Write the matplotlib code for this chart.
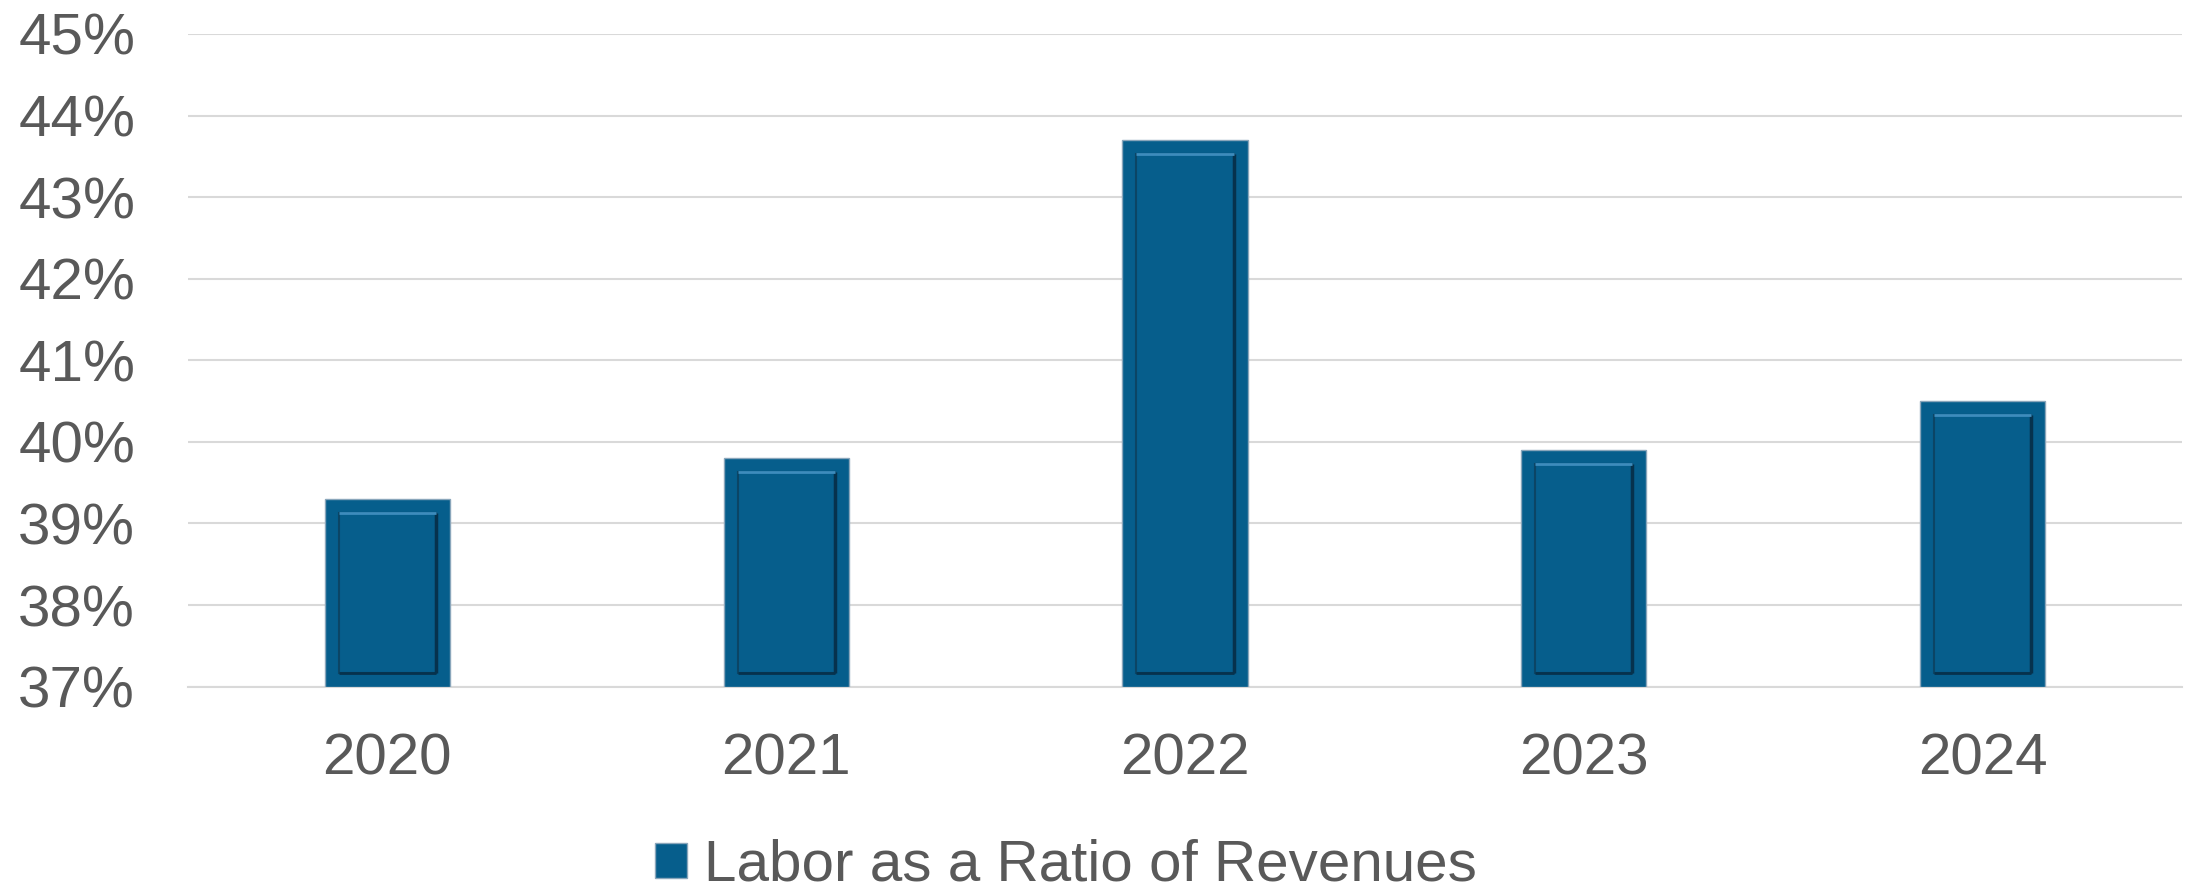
import numpy as np
import matplotlib
matplotlib.use("Agg")
import matplotlib.pyplot as plt
from matplotlib.patches import Patch
from matplotlib.ticker import FuncFormatter, MultipleLocator

# data
years = ["2020", "2021", "2022", "2023", "2024"]
labor_ratio = [39.3, 39.8, 43.7, 39.9, 40.5]  # percent
series_name = "Labor as a Ratio of Revenues"

plt.rcParams["font.family"] = ["Liberation Sans", "DejaVu Sans"]

bar_color = "#065e8c"
text_color = "#595959"
grid_color = "#d9d9d9"
fs = 42

fig = plt.figure(figsize=(21.93, 8.89), dpi=100)
ax = fig.add_axes([0.0857, 0.2276, 0.9093, 0.7342])

x = np.arange(len(years))
ymin, ymax = 37, 45
w = 0.314

vals = np.array(labor_ratio)
ax.bar(x, vals - ymin, bottom=ymin, width=w,
       color=bar_color, edgecolor="#8aa6bb", linewidth=1.0, zorder=3)

# inner bevel panel
ix = 0.035
iy = 0.17
ax.bar(x, vals - ymin - 2 * iy, bottom=ymin + iy, width=w - 2 * ix,
       color=bar_color, edgecolor="#0b4565", linewidth=1.5, zorder=4)
ax.vlines(x + w / 2 - ix, ymin + iy, vals - iy, color="#06324d", lw=2.5, zorder=5)
ax.hlines(np.full(len(x), ymin + iy), x - w / 2 + ix, x + w / 2 - ix,
          color="#06324d", lw=2.0, zorder=5)
ax.hlines(vals - iy, x - w / 2 + ix, x + w / 2 - ix, color="#3d8cbd", lw=2.0, zorder=5)

ax.set_xlim(-0.5, len(years) - 0.5)
ax.set_ylim(ymin, ymax)
ax.yaxis.set_major_locator(MultipleLocator(1))
ax.yaxis.set_major_formatter(FuncFormatter(lambda v, p: f"{v:.0f}%"))
ax.set_xticks(x)
ax.set_xticklabels(years)

ax.grid(axis="y", color=grid_color, linewidth=1.5, zorder=0)
ax.set_axisbelow(True)
for s in ["top", "right", "left"]:
    ax.spines[s].set_visible(False)
ax.spines["bottom"].set_color(grid_color)
ax.spines["bottom"].set_linewidth(1.5)

ax.tick_params(axis="both", length=0, labelsize=fs, labelcolor=text_color)
ax.tick_params(axis="y", pad=38)
ax.tick_params(axis="x", pad=33)

handle = Patch(facecolor=bar_color, edgecolor="#8aa6bb", linewidth=1.0)
fig.legend([handle], [series_name], loc="center", bbox_to_anchor=(0.486, 0.026),
           frameon=False, fontsize=fs, labelcolor=text_color,
           handlelength=0.55, handleheight=0.55, handletextpad=0.28,
           borderpad=0, borderaxespad=0)

fig.savefig("out.png", dpi=100, facecolor="white")
